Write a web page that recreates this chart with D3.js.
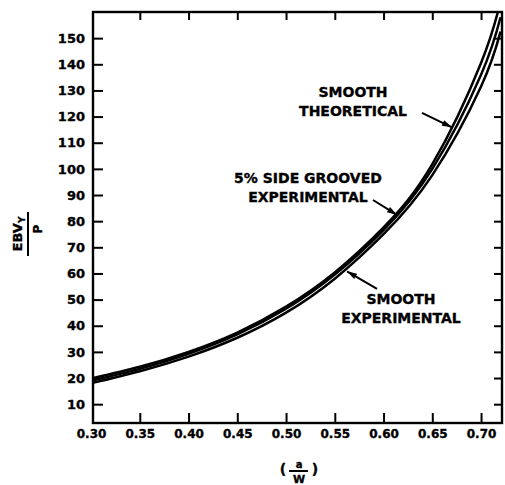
<!DOCTYPE html>
<html>
<head>
<meta charset="utf-8">
<script src="https://cdn.jsdelivr.net/npm/d3@7"></script>
<style>
  body { margin: 0; background: #fff; }
  svg { display: block; }
  text { font-family: "DejaVu Sans", sans-serif; font-weight: bold; fill: #000; stroke: #000; stroke-width: 0.35px; }
</style>
</head>
<body>
<svg id="chart" width="505" height="485"></svg>
<script>
// a/W values the curves were read at
var aw = [0.30, 0.35, 0.40, 0.45, 0.50, 0.55, 0.60, 0.65, 0.70, 0.72];
// EBV_Y / P
var smoothTheoretical   = [19.8, 24.3, 30.0, 37.4, 47.3, 60.4, 77.6, 101.8, 140.5, 164];
var sideGroovedExp      = [18.9, 23.5, 29.3, 36.7, 46.5, 59.6, 76.6, 100.0, 136.0, 158];
var smoothExperimental  = [18.0, 22.6, 28.2, 35.4, 45.0, 58.0, 75.0, 97.6, 131.5, 152.5];

var xTicks = [0.30, 0.35, 0.40, 0.45, 0.50, 0.55, 0.60, 0.65, 0.70];
var yTicks = [10, 20, 30, 40, 50, 60, 70, 80, 90, 100, 110, 120, 130, 140, 150];

// label anchors in data units: [a/W, EBV/P]
var labels = [
  {lines: ["SMOOTH", "THEORETICAL"], at: [0.5687, 127.5], from: [0.6394, 121.4], to: [0.6702, 115.9]},
  {lines: ["5% SIDE GROOVED", "EXPERIMENTAL"], at: [0.5225, 94.6], from: [0.5892, 88.1], to: [0.6138, 82.4]},
  {lines: ["SMOOTH", "EXPERIMENTAL"], at: [0.6179, 48.3], from: [0.5933, 54.1], to: [0.5625, 60.8]}
];

var svg = d3.select("#chart"),
    mLeft = 93, mRight = 502, mTop = 12, mBottom = 423;

var x = d3.scaleLinear().domain([0.302, 0.7215]).range([mLeft, mRight]),
    y = d3.scaleLinear().domain([2.8, 160]).range([mBottom, mTop]);

var defs = svg.append("defs");
defs.append("clipPath").attr("id", "plot")
   .append("rect")
   .attr("x", mLeft).attr("y", mTop)
   .attr("width", mRight - mLeft).attr("height", mBottom - mTop);

defs.append("marker")
   .attr("id", "arrow")
   .attr("viewBox", "0 0 10 6")
   .attr("refX", 10).attr("refY", 3)
   .attr("markerWidth", 11).attr("markerHeight", 6)
   .attr("markerUnits", "userSpaceOnUse")
   .attr("orient", "auto")
   .append("path").attr("d", "M0,0L10,3L0,6Z").attr("fill", "#000");

// axes, ticks pointing inward on all four sides
var gLeft = svg.append("g")
   .attr("transform", "translate(" + mLeft + ",0)")
   .call(d3.axisLeft(y).tickValues(yTicks).tickSize(-10).tickPadding(8));
gLeft.selectAll("text").attr("font-size", "13px");

var gBottom = svg.append("g")
   .attr("transform", "translate(0," + mBottom + ")")
   .call(d3.axisBottom(x).tickValues(xTicks).tickSize(-10).tickPadding(6)
     .tickFormat(d3.format(".2f")));
gBottom.selectAll("text").attr("font-size", "12px");
gBottom.selectAll(".tick line").filter(function(d) { return d < 0.31; }).remove();

svg.append("g")
   .attr("transform", "translate(0," + mTop + ")")
   .call(d3.axisTop(x).tickValues(xTicks.slice(1)).tickSize(-8).tickFormat(""));

svg.append("g")
   .attr("transform", "translate(" + mRight + ",0)")
   .call(d3.axisRight(y).tickValues(yTicks).tickSize(-8).tickFormat(""));

svg.selectAll(".domain").remove();
svg.selectAll(".tick line").attr("stroke", "#000").attr("stroke-width", 2);
svg.selectAll(".tick text").attr("font-family", null);

svg.append("rect")
   .attr("x", mLeft).attr("y", mTop)
   .attr("width", mRight - mLeft).attr("height", mBottom - mTop)
   .attr("fill", "none").attr("stroke", "#000").attr("stroke-width", 2.4);

// curves
var line = d3.line()
   .x(function(d, i) { return x(aw[i]); })
   .y(function(d) { return y(d); })
   .curve(d3.curveNatural);

svg.append("g").attr("clip-path", "url(#plot)")
   .selectAll("path")
   .data([smoothTheoretical, sideGroovedExp, smoothExperimental])
   .enter().append("path")
   .attr("d", line)
   .attr("fill", "none")
   .attr("stroke", "#000")
   .attr("stroke-width", 2.5);

// annotations
labels.forEach(function(l) {
  var t = svg.append("text")
     .attr("x", x(l.at[0])).attr("y", y(l.at[1]))
     .attr("text-anchor", "middle")
     .attr("font-size", "14px");
  l.lines.forEach(function(s, i) {
    t.append("tspan").attr("x", x(l.at[0])).attr("dy", i ? 19 : 0).text(s);
  });
  svg.append("line")
     .attr("x1", x(l.from[0])).attr("y1", y(l.from[1]))
     .attr("x2", x(l.to[0])).attr("y2", y(l.to[1]))
     .attr("stroke", "#000").attr("stroke-width", 2)
     .attr("marker-end", "url(#arrow)");
});

// y axis title: EBV_Y over P
var yt = svg.append("g").attr("transform", "translate(22,234) rotate(-90)");
var ebv = yt.append("text").attr("text-anchor", "middle").attr("font-size", "13px");
ebv.append("tspan").text("EBV");
ebv.append("tspan").attr("font-size", "9px").attr("dy", 3).text("Y");
yt.append("line").attr("x1", -22).attr("x2", 22).attr("y1", 6).attr("y2", 6)
  .attr("stroke", "#000").attr("stroke-width", 2);
yt.append("text").attr("x", 5).attr("y", 20).attr("text-anchor", "middle")
  .attr("font-size", "12px").text("P");

// x axis title: ( a / W )
var xc = (mLeft + mRight) / 2 - 0.5;
svg.append("text").attr("x", xc - 14).attr("y", 474).attr("text-anchor", "middle")
   .attr("font-size", "14px").text("(");
svg.append("text").attr("x", xc + 18).attr("y", 474).attr("text-anchor", "middle")
   .attr("font-size", "14px").text(")");
svg.append("text").attr("x", xc + 2).attr("y", 468).attr("text-anchor", "middle")
   .attr("font-size", "10px").text("a");
svg.append("line").attr("x1", xc - 8).attr("x2", xc + 11).attr("y1", 471).attr("y2", 471)
   .attr("stroke", "#000").attr("stroke-width", 2);
svg.append("text").attr("x", xc + 2).attr("y", 483).attr("text-anchor", "middle")
   .attr("font-size", "11px").text("W");
</script>
</body>
</html>
